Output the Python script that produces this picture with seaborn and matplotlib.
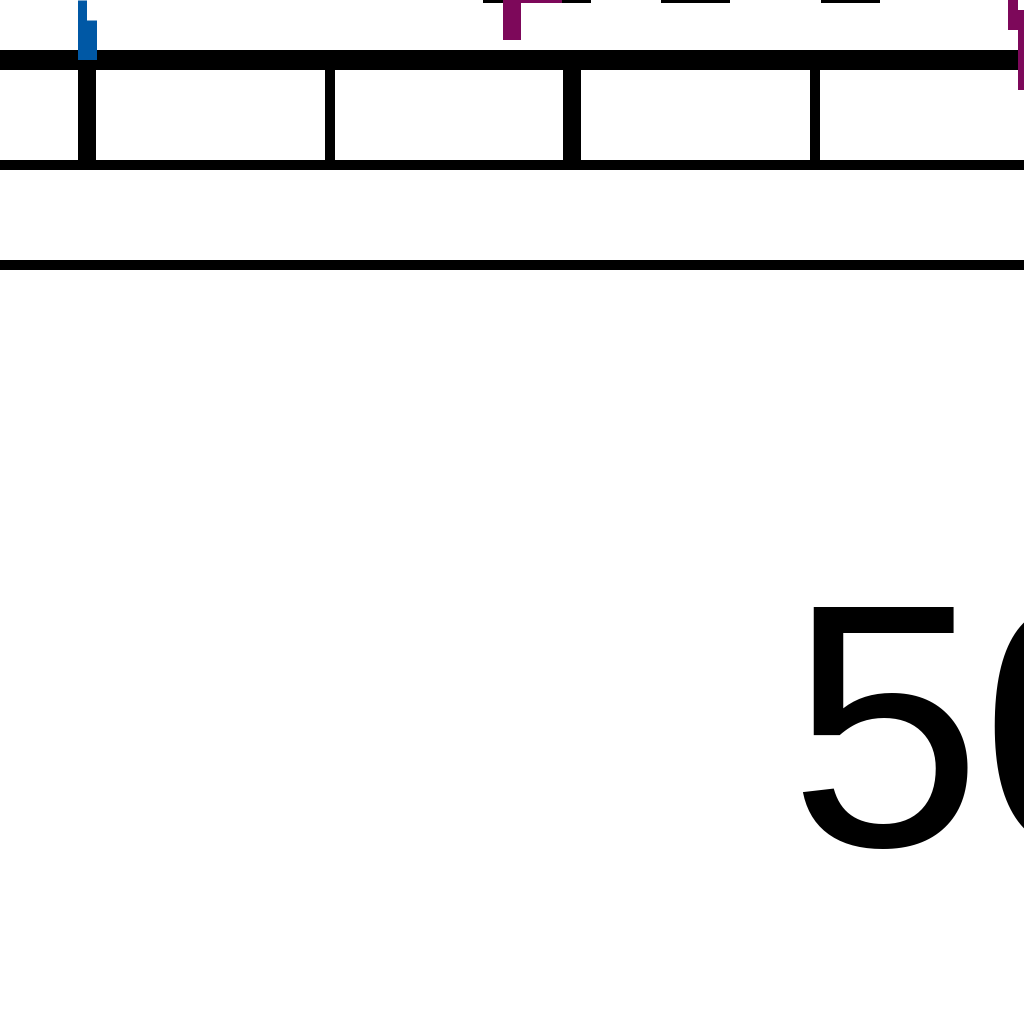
import numpy as np
import pandas as pd
import matplotlib
matplotlib.use("Agg")
import matplotlib.pyplot as plt
import seaborn as sns

# values (data units of the upper panel)
major_ticks = [20, 30]
minor_ticks = [25, 35]

blue_x = [[19.9, 19.9], [20.0, 20.0]]
blue_y = [[0.0, 6.0], [0.0, 4.0]]
blue_w = [9, 19]

black_x = [[28.16, 30.39], [31.84, 33.26], [35.13, 36.35]]
black_y = [[6.0, 6.0], [6.0, 6.0], [6.0, 6.0]]

purple_x = [[28.76, 28.76], [28.76, 29.79], [39.09, 39.09], [39.26, 39.26]]
purple_y = [[2.0, 6.0], [6.0, 6.0], [3.0, 6.0], [-3.0, 5.0]]
purple_w = [18, 6, 10, 6]

lower_ticks = [50]
lower_labels = ["50"]

blue = "#0058a5"
purple = "#7d085a"
px = 0.72  # points per pixel at dpi 100

sns.set_theme(style="ticks")
plt.rcParams['font.family'] = ['Liberation Sans', 'DejaVu Sans']

fig = plt.figure(figsize=(10.24, 10.24), dpi=100)
fig.patch.set_facecolor("white")

# upper panel: only its bottom strip is in view
ax1 = fig.add_axes([0, (1024 - 60) / 1024, 1, 60 / 1024])
ax1.set_facecolor("white")
for xs, ys in zip(black_x, black_y):
    sns.lineplot(x=xs, y=ys, ax=ax1, sort=False, estimator=None, color="black",
                 lw=6 * px, solid_capstyle="butt", zorder=2)
for xs, ys, w in zip(blue_x, blue_y, blue_w):
    sns.lineplot(x=xs, y=ys, ax=ax1, sort=False, estimator=None, color=blue,
                 lw=w * px, solid_capstyle="butt", zorder=3)
for i, (xs, ys, w) in enumerate(zip(purple_x, purple_y, purple_w)):
    sns.lineplot(x=xs, y=ys, ax=ax1, sort=False, estimator=None, color=purple,
                 lw=w * px, solid_capstyle="butt", zorder=4, clip_on=(i != 3))
ax1.set_xlim(20 - 87 / 48.5, 20 + (1024 - 87) / 48.5)
ax1.set_ylim(0, 6)
ax1.set_xticks(major_ticks)
ax1.set_xticks(minor_ticks, minor=True)
ax1.tick_params(axis="x", which="major", direction="out", length=105 * px,
                width=18 * px, color="black", labelbottom=False)
ax1.tick_params(axis="x", which="minor", direction="out", length=105 * px,
                width=10 * px, color="black", labelbottom=False)
ax1.set_yticks([])
ax1.set_xlabel("")
ax1.set_ylabel("")
for side in ["top", "left", "right"]:
    ax1.spines[side].set_visible(False)
ax1.spines["bottom"].set_linewidth(20 * px)
ax1.spines["bottom"].set_color("black")

# lower strip with the big tick label
ax2 = fig.add_axes([0, (1024 - 265) / 1024, 1, 100 / 1024])
ax2.set_facecolor("white")
ax2.set_xlim(0, 52.2)
ax2.set_ylim(0, 1)
ax2.set_xticks(lower_ticks)
ax2.set_xticklabels(lower_labels)
ax2.tick_params(axis="x", length=0, pad=237, labelsize=250, labelcolor="black")
ax2.set_yticks([])
for side in ["left", "right"]:
    ax2.spines[side].set_visible(False)
for side in ["top", "bottom"]:
    ax2.spines[side].set_linewidth(10 * px)
    ax2.spines[side].set_color("black")

fig.savefig("out.png", dpi=100, facecolor="white")
